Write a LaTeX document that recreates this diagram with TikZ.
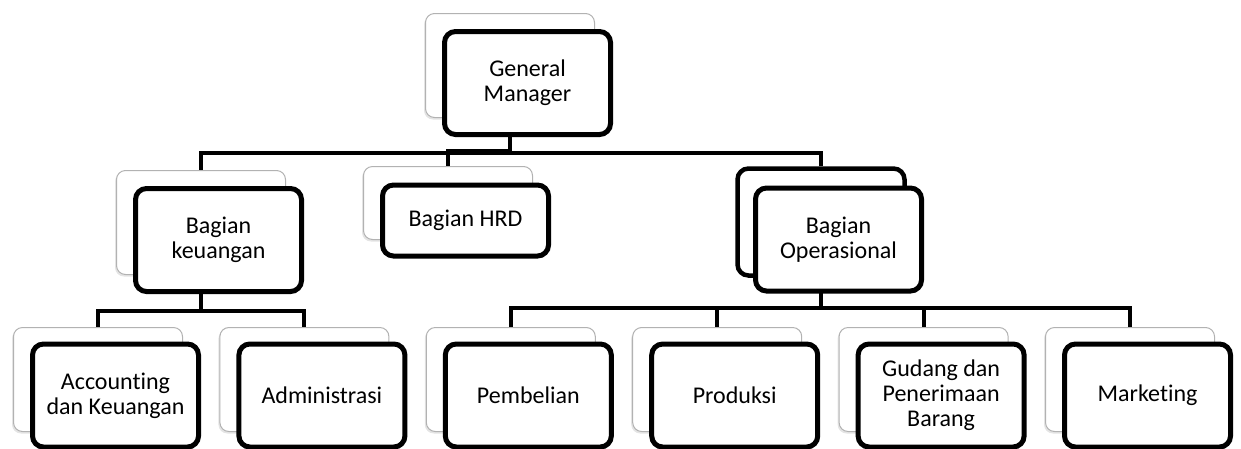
\documentclass[tikz,border=0pt]{standalone}
\usepackage{fontspec}
\setmainfont{Carlito}[Ligatures=NoCommon]
\usepackage{tikz}
\usetikzlibrary{shadows}

\begin{document}
\begin{tikzpicture}[x=1pt,y=-1pt,
	frontbox/.style={draw,fill=white,line width=5pt,rounded corners=11pt,minimum width=166pt,minimum height=103pt,inner sep=0pt,align=center,font=\fontsize{24}{25}\selectfont},
	backbox/.style={draw=gray!60,fill=white,line width=1pt,rounded corners=9pt,minimum width=169pt,minimum height=104pt,inner sep=0pt,drop shadow={shadow xshift=-1.5pt,shadow yshift=-2pt,fill=gray!60,opacity=0.35}},
	backdark/.style={draw,fill=white,line width=4.5pt,rounded corners=11pt,minimum width=167pt,minimum height=107pt,inner sep=0pt},
	link/.style={line width=4pt}]
	\useasboundingbox (0,0) rectangle (1241,448);
	\node[backbox] at (510,65.5) (gmS) {};
	\node[backbox] at (201,222.5) (keuS) {};
	\node[backbox,minimum height=73pt] at (448,203) (hrdS) {};
	\node[backdark] at (821,222) (opsS) {};
	\node[backbox] at (98,379.5) (accS) {};
	\node[backbox] at (304.4,379.5) (admS) {};
	\node[backbox] at (510.8,379.5) (pemS) {};
	\node[backbox] at (717.2,379.5) (proS) {};
	\node[backbox] at (923.6,379.5) (gudS) {};
	\node[backbox] at (1130,379.5) (mktS) {};
	\draw[link] (gmS.south) -- ++(0,35) -| (keuS.north);
	\draw[link] (gmS.south) -- ++(0,32.5) -| (hrdS.north);
	\draw[link] (gmS.south) -- ++(0,35) -| (opsS.north);
	\draw[link] (keuS.south) -- ++(0,35.5) -| (accS.north);
	\draw[link] (keuS.south) -- ++(0,35.5) -| (admS.north);
	\draw[link] (opsS.south) -- ++(0,30.5) -| (pemS.north);
	\draw[link] (opsS.south) -- ++(0,30.5) -| (proS.north);
	\draw[link] (opsS.south) -- ++(0,30.5) -| (gudS.north);
	\draw[link] (opsS.south) -- ++(0,30.5) -| (mktS.north);
	\node[frontbox] at ([shift={(17.5,17.5)}]gmS) (gm) {General\\Manager};
	\node[frontbox] at ([shift={(17.5,17.5)}]keuS) (keu) {Bagian\\keuangan};
	\node[frontbox,minimum height=71pt] at ([shift={(17.5,17.5)}]hrdS) (hrd) {Bagian HRD};
	\node[frontbox] at ([shift={(17.5,17.5)}]opsS) (ops) {Bagian\\Operasional};
	\node[frontbox] at ([shift={(17.5,16)}]accS) (acc) {Accounting\\dan Keuangan};
	\node[frontbox] at ([shift={(17.5,16)}]admS) (adm) {Administrasi};
	\node[frontbox] at ([shift={(17.5,16)}]pemS) (pem) {Pembelian};
	\node[frontbox] at ([shift={(17.5,16)}]proS) (pro) {Produksi};
	\node[frontbox] at ([shift={(17.5,16)}]gudS) (gud) {Gudang dan\\Penerimaan\\Barang};
	\node[frontbox] at ([shift={(17.5,16)}]mktS) (mkt) {Marketing};
\end{tikzpicture}
\end{document}
